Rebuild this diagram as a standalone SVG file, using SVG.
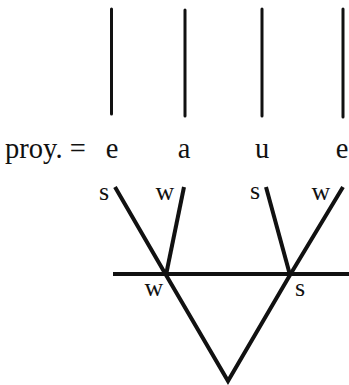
<svg xmlns="http://www.w3.org/2000/svg" width="349" height="385" viewBox="0 0 349 385">
<style>
.t{font-family:"Liberation Serif","Times New Roman",serif;fill:#111}
.big{font-size:28.5px}
.sm{font-size:26px}
.v{stroke:#111;stroke-width:3;stroke-linecap:round;fill:none}
.d{stroke:#111;stroke-width:4;stroke-linecap:butt;stroke-linejoin:miter;fill:none}
</style>
<rect width="349" height="385" fill="#fff"/>
<g id="connectors">
<line class="v" x1="111.5" y1="9" x2="111.5" y2="114"/>
<line class="v" x1="185" y1="10" x2="185" y2="116"/>
<line class="v" x1="262" y1="9" x2="262" y2="116"/>
<line class="v" x1="343" y1="9" x2="343" y2="117"/>
<line class="d" x1="113" y1="274" x2="349" y2="274"/>
<polyline class="d" points="115,187 166,275 228,381 290,275 343,187"/>
<line class="d" x1="184" y1="187" x2="166" y2="275"/>
<line class="d" x1="266" y1="187" x2="290" y2="275"/>
</g>
<g id="label-proy"><text class="t big" x="5" y="158">proy. =</text></g>
<g id="seg-e1"><text class="t big" x="112" y="158" text-anchor="middle">e</text></g>
<g id="seg-a"><text class="t big" x="184" y="158" text-anchor="middle">a</text></g>
<g id="seg-u"><text class="t big" x="262" y="158" text-anchor="middle">u</text></g>
<g id="seg-e2"><text class="t big" x="342" y="158" text-anchor="middle">e</text></g>
<g id="s1"><text class="t sm" x="104" y="200" text-anchor="middle">s</text></g>
<g id="w1"><text class="t sm" x="165" y="200" text-anchor="middle">w</text></g>
<g id="s2"><text class="t sm" x="255" y="199" text-anchor="middle">s</text></g>
<g id="w2"><text class="t sm" x="321" y="200" text-anchor="middle">w</text></g>
<g id="w3"><text class="t sm" x="154" y="296" text-anchor="middle">w</text></g>
<g id="s3"><text class="t sm" x="300" y="296" text-anchor="middle">s</text></g>
</svg>
